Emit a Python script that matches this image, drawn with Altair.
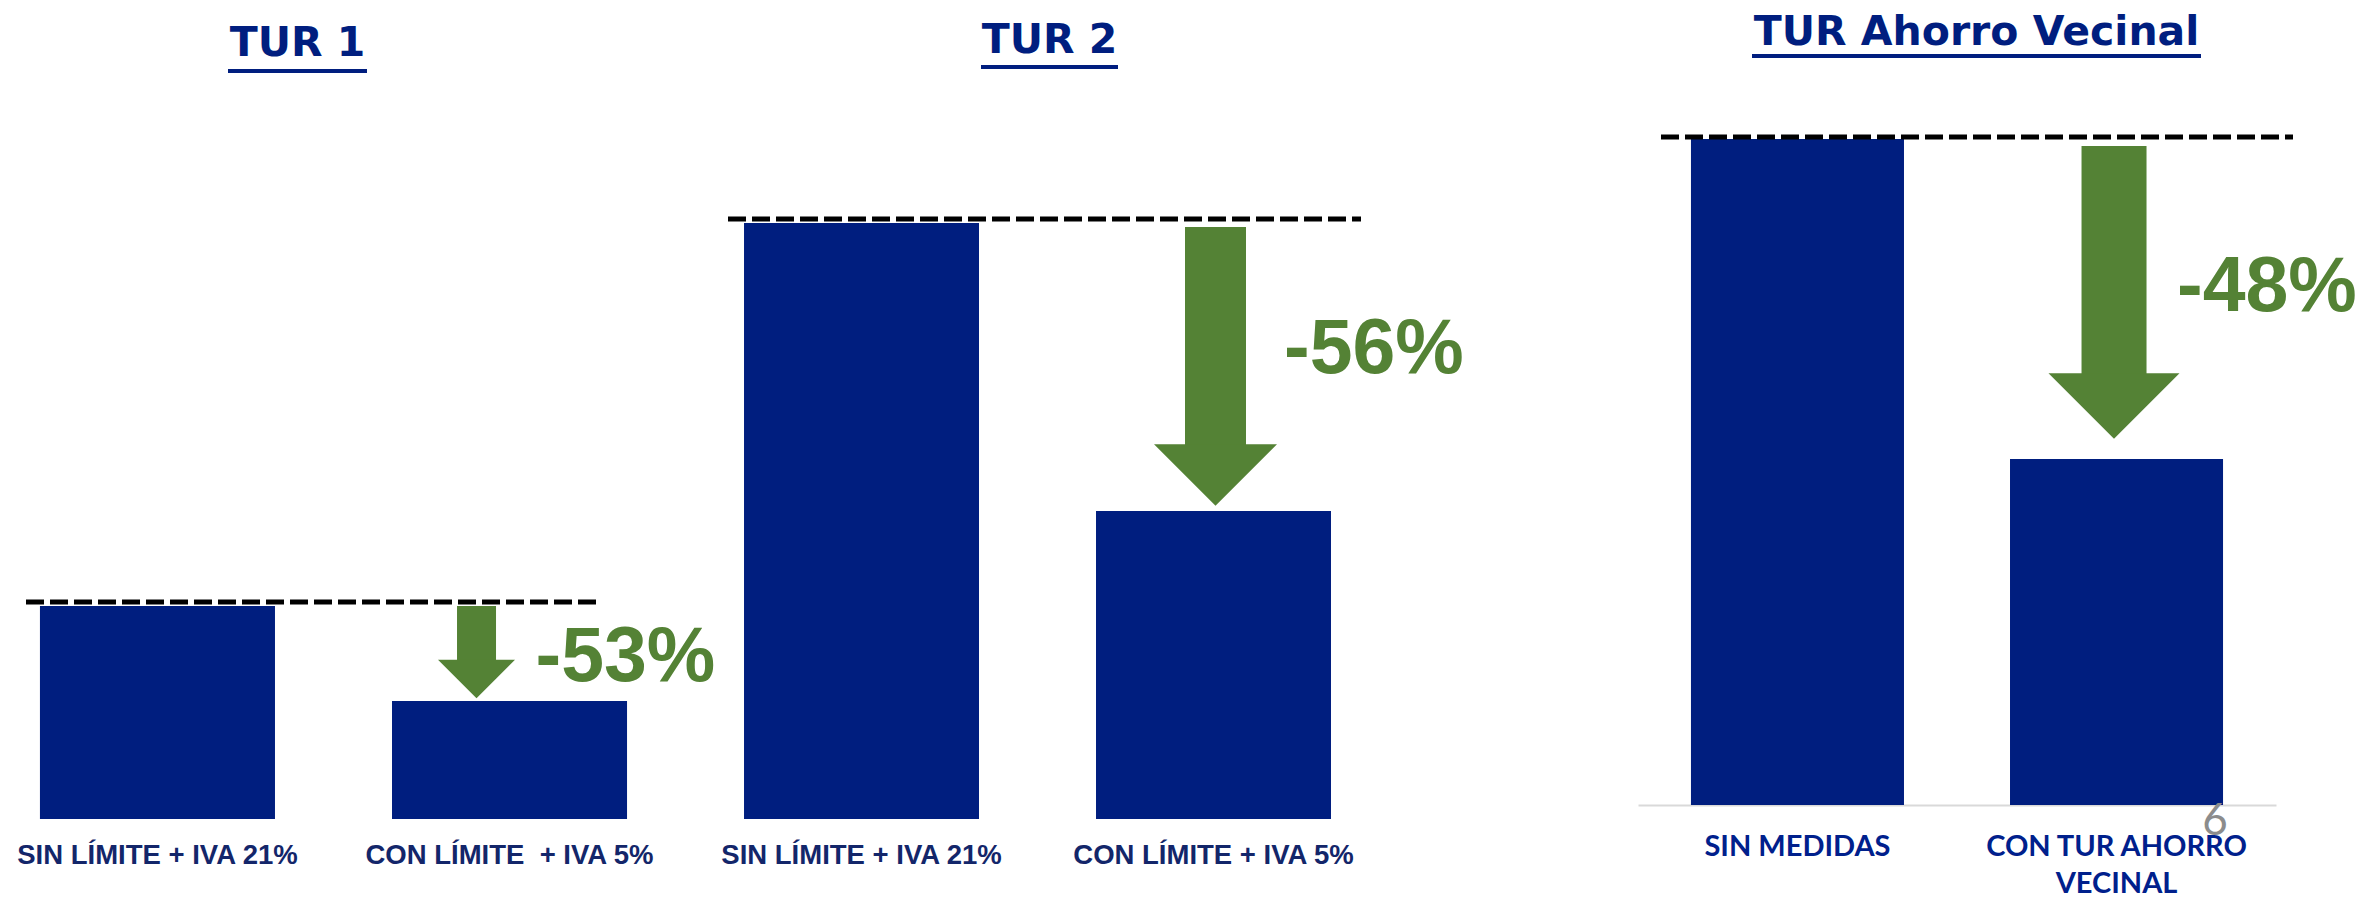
import altair as alt
import pandas as pd

# ---------------- data ----------------
titles = ["TUR 1", "TUR 2", "TUR Ahorro Vecinal"]
cats_tur1 = ["SIN LÍMITE + IVA 21%", "CON LÍMITE\u00a0 + IVA 5%"]
cats_tur2 = ["SIN LÍMITE + IVA 21%", "CON LÍMITE + IVA 5%"]
cats_vec = ["SIN MEDIDAS", "CON TUR AHORRO\nVECINAL"]
vals_tur1 = [213, 118]      # relative bar heights (same scale as TUR 2)
vals_tur2 = [596, 308]
vals_vec = [666, 346]       # own scale
changes = ["-53%", "-56%", "-48%"]
page_number = ["6"]

NAVY = "#001E7F"
GREEN = "#548235"
LABEL_DARK = "#13266A"
LABEL_BLUE = "#00208C"
ARROW_HEAD = "M-1,-0.5L1,-0.5L0,0.5Z"


def panel(title, cats, vals, change, *, width, height, ymax, p_in, p_out, align,
          axis, title_x, title_y, ul_x1, ul_x2, ul_y, rule_x1, rule_x2, rule_dy,
          shaft_w, arrow_dx, shaft_top_dy, head_w, head_dy, pct_dx, pct_dy,
          extra=None):
    bars_df = pd.DataFrame({"cat": cats, "value": vals})
    ann_df = pd.DataFrame({"cat": [cats[1]], "v1": [vals[0]], "v2": [vals[1]],
                           "label": [change]})
    title_df = pd.DataFrame({"t": [title]})

    x = alt.X("cat:N", sort=cats, title=None, axis=axis,
              scale=alt.Scale(paddingInner=p_in, paddingOuter=p_out, align=align))
    ys = alt.Scale(domain=[0, ymax], nice=False)

    bars = alt.Chart(bars_df).mark_bar(color=NAVY).encode(
        x=x, y=alt.Y("value:Q", scale=ys, axis=None))

    dashed = alt.Chart(ann_df).mark_rule(
        color="black", strokeWidth=5, strokeDash=[18, 6], yOffset=rule_dy
    ).encode(x=alt.value(rule_x1), x2=alt.value(rule_x2),
             y=alt.Y("v1:Q", scale=ys, axis=None))

    shaft = alt.Chart(ann_df).mark_bar(
        color=GREEN, width=shaft_w, xOffset=arrow_dx,
        yOffset=shaft_top_dy, y2Offset=head_dy
    ).encode(x=x, y=alt.Y("v1:Q", scale=ys, axis=None), y2="v2:Q")

    head = alt.Chart(ann_df).mark_point(
        shape=ARROW_HEAD, size=head_w * head_w, filled=True, opacity=1,
        color=GREEN, strokeWidth=0, xOffset=arrow_dx, yOffset=head_dy
    ).encode(x=x, y=alt.Y("v2:Q", scale=ys, axis=None))

    pct = alt.Chart(ann_df).transform_calculate(
        mid="(datum.v1 + datum.v2) / 2"
    ).mark_text(
        align="left", baseline="alphabetic", font="Liberation Sans",
        fontWeight="bold", fontSize=77, color=GREEN, dx=pct_dx, dy=pct_dy
    ).encode(x=x, y=alt.Y("mid:Q", scale=ys, axis=None), text="label:N")

    ttl = alt.Chart(title_df).mark_text(
        align="center", baseline="alphabetic", font="DejaVu Sans",
        fontWeight="bold", fontSize=41, color=NAVY
    ).encode(x=alt.value(title_x), y=alt.value(title_y), text="t:N")

    underline = alt.Chart(title_df).mark_rule(color=NAVY, strokeWidth=4).encode(
        x=alt.value(ul_x1), x2=alt.value(ul_x2), y=alt.value(ul_y))

    layers = [bars, dashed, shaft, head, pct, ttl, underline]
    if extra is not None:
        layers.append(extra)
    return alt.layer(*layers).properties(width=width, height=height)


axis12 = alt.Axis(labelAngle=0, labelFont="Liberation Sans", labelFontWeight="bold",
                  labelFontSize=27.5, labelColor=LABEL_DARK, ticks=False, tickSize=0,
                  domain=False, labelPadding=22, labelLimit=0, grid=False)

axis3 = alt.Axis(labelAngle=0, labelFont="Lato", labelFontWeight="bold",
                 labelFontSize=29, labelColor=LABEL_BLUE, ticks=False, tickSize=0,
                 domain=True, domainColor="#D9D9D9", domainWidth=2, labelPadding=27,
                 labelLineHeight=37, labelLimit=0, grid=False,
                 labelExpr="split(datum.label, '\\n')")

page_num = alt.Chart(pd.DataFrame({"n": page_number})).mark_text(
    align="center", baseline="alphabetic", font="Lato", fontSize=44, color="#8C8C8C"
).encode(x=alt.value(577), y=alt.value(826), text="n:N")

p1 = panel(titles[0], cats_tur1, vals_tur1, changes[0],
           width=692, height=810, ymax=810, p_in=0.3324, p_out=0.149, align=0.295,
           axis=axis12, title_x=288.5, title_y=47, ul_x1=219, ul_x2=358, ul_y=62,
           rule_x1=17, rule_x2=587, rule_dy=-4,
           shaft_w=39, arrow_dx=-33, shaft_top_dy=0, head_w=77, head_dy=-22,
           pct_dx=26, pct_dy=27.5)

p2 = panel(titles[1], cats_tur2, vals_tur2, changes[1],
           width=937, height=810, ymax=810, p_in=0.3324, p_out=0.4972, align=0.1229,
           axis=axis12, title_x=348.5, title_y=44, ul_x1=280, ul_x2=417, ul_y=58,
           rule_x1=27, rule_x2=660, rule_dy=-4,
           shaft_w=61, arrow_dx=2, shaft_top_dy=4, head_w=123, head_dy=-36,
           pct_dx=70.5, pct_dy=6)

p3 = panel(titles[2], cats_vec, vals_vec, changes[2],
           width=638, height=796, ymax=796, p_in=0.3323, p_out=0.166, align=0.5,
           axis=axis3, title_x=338.5, title_y=36, ul_x1=114, ul_x2=563, ul_y=47,
           rule_x1=23, rule_x2=655, rule_dy=-2,
           shaft_w=65, arrow_dx=-2.5, shaft_top_dy=7, head_w=131, head_dy=-53,
           pct_dx=60.5, pct_dy=12, extra=page_num)

chart = alt.hconcat(p1, p2, p3, spacing=0, bounds="flush").properties(
    padding={"left": 0, "top": 0, "right": 0, "bottom": 0},
    background="white",
).configure_view(stroke="transparent")

chart.save("out.html", embed_options={"renderer": "svg", "actions": False})
